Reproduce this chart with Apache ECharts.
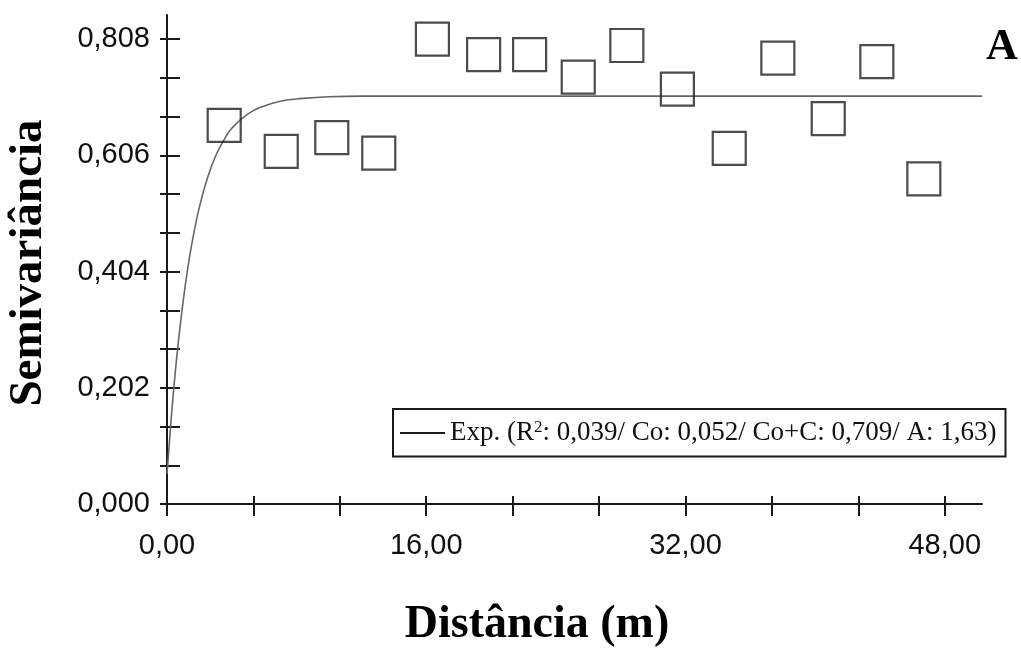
<!DOCTYPE html>
<html>
<head>
<meta charset="utf-8">
<script src="https://cdn.jsdelivr.net/npm/echarts@6/dist/echarts.min.js"></script>
<style>
  html, body { margin: 0; padding: 0; background: #fff; }
  #chart { width: 1021px; height: 651px; }
</style>
</head>
<body>
<div id="chart"></div>
<script>
// semivariograma experimental (pontos) e modelo exponencial ajustado
const lagDist = [3.53, 7.05, 10.17, 13.07, 16.38, 19.54, 22.38, 25.38, 28.38, 31.50, 34.70, 37.70, 40.81, 43.81, 46.71]
const semivar = [0.658, 0.613, 0.637, 0.610, 0.808, 0.781, 0.781, 0.742, 0.797, 0.721, 0.618, 0.775, 0.670, 0.769, 0.565]

// curva do modelo
const modelDist = [0, 0.25, 0.5, 0.75, 1, 1.25, 1.5, 1.75, 2, 2.5, 3, 3.5, 4, 5, 6, 7, 8, 10, 12, 50.3]
const modelGamma = [0.052, 0.145, 0.226, 0.294, 0.353, 0.404, 0.447, 0.484, 0.516, 0.567, 0.605, 0.632, 0.653, 0.678, 0.692, 0.700, 0.704, 0.708, 0.709, 0.709]

const xTicks = [0, 5.333, 10.667, 16, 21.333, 26.667, 32, 37.333, 42.667, 48]
const xLabels = [0, 16, 32, 48]
const yTicks = [0, 0.0673, 0.1347, 0.202, 0.2693, 0.3367, 0.404, 0.4713, 0.5387, 0.606, 0.6733, 0.7407, 0.808]
const yLabels = [0, 0.202, 0.404, 0.606, 0.808]

const modelName = 'Exp.'
const modelText = ['Exp. (R', '2', ': 0,039/ Co: 0,052/ Co+C: 0,709/ A: 1,63)']

const chart = echarts.init(document.getElementById('chart'), null, { renderer: 'canvas' })

const axisLine = { show: true, lineStyle: { color: '#1a1a1a', width: 2 } }
const tickLine = { color: '#1a1a1a', width: 2 }
const labelFont = { fontFamily: 'Liberation Sans', fontSize: 29, color: '#111' }

const xBase = {
  type: 'value',
  min: 0,
  max: 50.3,
  splitLine: { show: false },
  position: 'bottom'
}
const yBase = {
  type: 'value',
  min: 0,
  max: 0.85,
  splitLine: { show: false },
  position: 'left',
  offset: 0
}

const option = {
  animation: false,
  backgroundColor: '#fff',
  grid: {
    left: 167,
    right: 39,
    top: 15,
    bottom: 147
  },
  xAxis: [
    {
      ...xBase,
      axisLine: axisLine,
      axisTick: { show: true, inside: false, length: 12, lineStyle: tickLine, customValues: xTicks },
      axisLabel: {
        ...labelFont,
        margin: 27,
        customValues: xLabels,
        formatter: v => v.toFixed(2).replace('.', ',')
      }
    },
    {
      ...xBase,
      axisLine: { show: false },
      axisTick: { show: true, inside: true, length: 8, lineStyle: tickLine, customValues: xTicks },
      axisLabel: { show: false }
    }
  ],
  yAxis: [
    {
      ...yBase,
      axisLine: axisLine,
      axisTick: { show: true, inside: false, length: 7, lineStyle: tickLine, customValues: yTicks },
      axisLabel: {
        ...labelFont,
        margin: 17,
        customValues: yLabels,
        formatter: v => v.toFixed(3).replace('.', ',')
      }
    },
    {
      ...yBase,
      axisLine: { show: false },
      axisTick: { show: true, inside: true, length: 13, lineStyle: tickLine, customValues: yTicks },
      axisLabel: { show: false }
    }
  ],
  legend: {
    show: true,
    left: 393,
    top: 409,
    padding: [10, 9, 10, 7],
    selectedMode: false,
    backgroundColor: '#fff',
    borderColor: '#1a1a1a',
    borderWidth: 2,
    itemWidth: 45,
    itemHeight: 2,
    data: [{ name: modelName, icon: 'rect', itemStyle: { color: '#1a1a1a', borderWidth: 0 } }],
    formatter: () => '{t|' + modelText[0] + '}{s|' + modelText[1] + '}{t|' + modelText[2] + '}',
    textStyle: {
      rich: {
        t: { fontFamily: 'Liberation Serif', fontSize: 27, color: '#111', lineHeight: 28 },
        s: { fontFamily: 'Liberation Serif', fontSize: 17, color: '#111', verticalAlign: 'top', lineHeight: 28 }
      }
    }
  },
  graphic: [
    {
      type: 'text',
      x: 29,
      y: 263,
      rotation: Math.PI / 2,
      style: {
        text: 'Semivariância',
        font: 'bold 47px "Liberation Serif"',
        fill: '#000',
        align: 'center',
        verticalAlign: 'middle'
      }
    },
    {
      type: 'text',
      x: 537,
      y: 625,
      style: {
        text: 'Distância (m)',
        font: 'bold 46px "Liberation Serif"',
        fill: '#000',
        align: 'center',
        verticalAlign: 'middle'
      }
    },
    {
      type: 'text',
      x: 1002,
      y: 48,
      style: {
        text: 'A',
        font: 'bold 44px "Liberation Serif"',
        fill: '#000',
        align: 'center',
        verticalAlign: 'middle'
      }
    }
  ],
  series: [
    {
      name: modelName,
      type: 'line',
      color: '#666',
      data: modelDist.map((d, i) => [d, modelGamma[i]]),
      showSymbol: false,
      symbol: 'none',
      smooth: 0.5,
      lineStyle: { color: '#666', width: 1.6 },
      z: 2
    },
    {
      name: 'semivariancia',
      type: 'scatter',
      data: lagDist.map((d, i) => [d, semivar[i]]),
      symbol: 'rect',
      symbolSize: 33,
      itemStyle: { color: 'rgba(0,0,0,0)', borderColor: '#1e1e1e', borderWidth: 2.2 },
      z: 3
    }
  ]
}

chart.setOption(option)
</script>
</body>
</html>
